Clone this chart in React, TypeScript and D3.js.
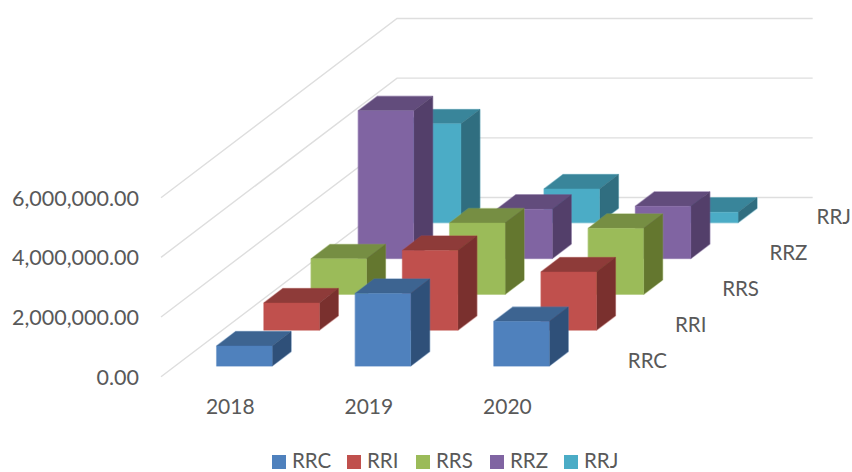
import * as d3 from 'd3'

const years = ['2018', '2019', '2020']
const seriesNames = ['RRC', 'RRI', 'RRS', 'RRZ', 'RRJ']
const rrc = [670000, 2430000, 1490000]
const rri = [910000, 2670000, 1950000]
const rrs = [1190000, 2390000, 2210000]
const rrz = [4950000, 1650000, 1750000]
const rrj = [3310000, 1130000, 350000]
const seriesValues = [rrc, rri, rrs, rrz, rrj]
const yTicks = [0, 2000000, 4000000, 6000000]

const frontColors = ['#4F81BD', '#C0504D', '#9BBB59', '#8064A2', '#4BACC6']
const topColors = ['#3D6491', '#8E3B39', '#768E43', '#624C7C', '#39859A']
const sideColors = ['#2F5079', '#7A302E', '#64772F', '#533F6A', '#306E80']

const W = 852
const H = 472
const TEXT = '#595959'
const FONT = 'Lato, Carlito, Calibri, sans-serif'

// oblique projection: front-left floor corner plus a depth vector
const DEPTH = { dx: 236, dy: -179.2 }
const x = d3.scaleBand().domain(years).range([161, 576.7]).paddingInner(0.6).paddingOuter(0.3)
const z = d3.scaleBand().domain(seriesNames).range([0, 1]).paddingInner(0.6).paddingOuter(0.3)
const y = d3.scaleLinear().domain([0, 6000000]).range([376.7, 197.7])

const project = (px: number, depth: number, value: number): [number, number] => [
  px + depth * DEPTH.dx,
  y(value) + depth * DEPTH.dy,
]
const poly = d3.line().curve(d3.curveLinearClosed)

const LEGEND_X = [272, 347, 416, 490, 564]

function Bar({ year, name, value, s }: { year: string; name: string; value: number; s: number }) {
  const x0 = x(year)!
  const x1 = x0 + x.bandwidth()
  const z0 = z(name)!
  const z1 = z0 + z.bandwidth()
  const front = [project(x0, z0, 0), project(x1, z0, 0), project(x1, z0, value), project(x0, z0, value)]
  const top = [project(x0, z0, value), project(x1, z0, value), project(x1, z1, value), project(x0, z1, value)]
  const side = [project(x1, z0, 0), project(x1, z1, 0), project(x1, z1, value), project(x1, z0, value)]
  // pale rim around the whole block, faces are seamless inside it
  const rim = [
    project(x0, z0, 0), project(x1, z0, 0), project(x1, z1, 0),
    project(x1, z1, value), project(x0, z1, value), project(x0, z0, value),
  ]
  return (
    <g>
      <path d={poly(rim)!} fill="none" stroke={frontColors[s]} strokeOpacity={0.35} strokeWidth={1.6} strokeLinejoin="round" />
      <path d={poly(top)!} fill={topColors[s]} stroke={topColors[s]} strokeWidth={0.4} />
      <path d={poly(side)!} fill={sideColors[s]} stroke={sideColors[s]} strokeWidth={0.4} />
      <path d={poly(front)!} fill={frontColors[s]} stroke={frontColors[s]} strokeWidth={0.4} />
    </g>
  )
}

export default function App() {
  const backOrder = d3.range(seriesNames.length).reverse()
  return (
    <svg width={W} height={H} style={{ position: 'absolute', left: 0, top: 0, display: 'block', background: '#fff' }} fontFamily={FONT}>
      {/* Grid */}
      {yTicks.map(t => {
        const a = project(161, 0, t)
        const b = project(161, 1, t)
        const c = project(576.7, 1, t)
        return (
          <g key={t}>
            <path d={d3.line()([a, b, c])!} fill="none" stroke="#DEDEDE" strokeWidth={1.4} />
            <text x={139} y={a[1] + 8} textAnchor="end" fontSize={21.5} fill={TEXT}>
              {d3.format(',.2f')(t)}
            </text>
          </g>
        )
      })}

      {/* Bars, back row first */}
      {backOrder.map(s =>
        years.map((yr, i) => (
          <Bar key={`${s}-${yr}`} year={yr} name={seriesNames[s]} value={seriesValues[s][i]} s={s} />
        ))
      )}

      {/* Category labels */}
      {years.map(yr => (
        <text key={yr} x={x(yr)! + x.bandwidth() / 2} y={414} textAnchor="middle" fontSize={21} fill={TEXT}>
          {yr}
        </text>
      ))}

      {/* Depth axis labels */}
      {seriesNames.map(n => {
        const mid = z(n)! + z.bandwidth() / 2
        const [px, py] = project(576.7, mid, 0)
        return (
          <text key={n} x={px + 27.5} y={py + 9} fontSize={20.5} fill={TEXT}>
            {n}
          </text>
        )
      })}

      {/* Legend */}
      {seriesNames.map((n, i) => (
        <g key={n} transform={`translate(${LEGEND_X[i]},455)`}>
          <rect width={14} height={14} fill={frontColors[i]} />
          <text x={20} y={12.5} fontSize={20.5} fill={TEXT}>{n}</text>
        </g>
      ))}
    </svg>
  )
}
